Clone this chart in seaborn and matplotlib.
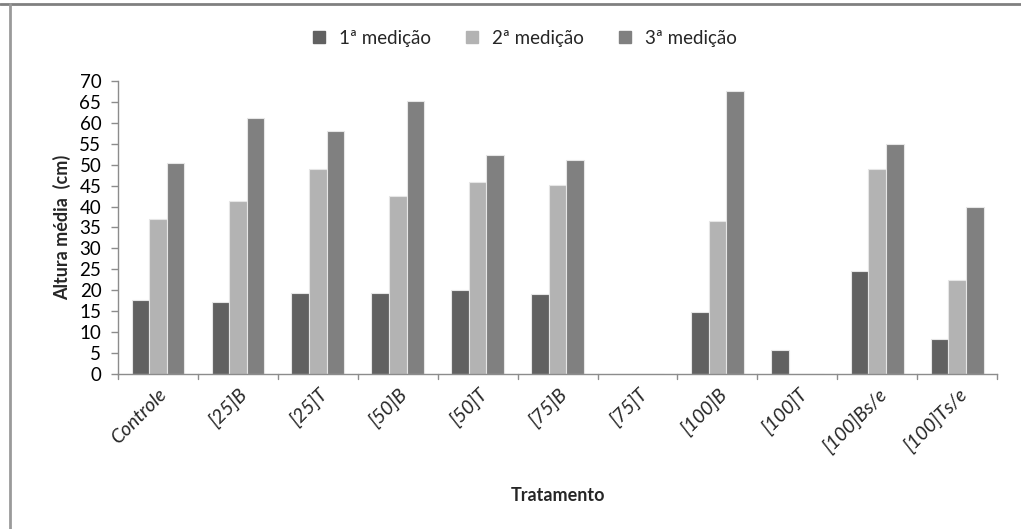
import matplotlib
matplotlib.use("Agg")
import matplotlib.pyplot as plt
from matplotlib.lines import Line2D
import seaborn as sns
import pandas as pd

categorias = ["Controle", "[25]B", "[25]T", "[50]B", "[50]T", "[75]B", "[75]T",
              "[100]B", "[100]T", "[100]Bs/e", "[100]Ts/e"]
medicao_1 = [17.7, 17.1, 19.4, 19.4, 20.0, 19.2, 0, 14.9, 5.8, 24.5, 8.4]
medicao_2 = [37.0, 41.3, 48.9, 42.6, 45.8, 45.1, 0, 36.5, 0, 48.9, 22.5]
medicao_3 = [50.3, 61.2, 58.0, 65.2, 52.4, 51.1, 0, 67.5, 0, 54.9, 39.8]
series = ["1ª medição", "2ª medição", "3ª medição"]
cores = ["#616161", "#b3b3b3", "#808080"]

df = pd.DataFrame({
    "Tratamento": categorias * 3,
    "Altura": medicao_1 + medicao_2 + medicao_3,
    "Medição": [s for s in series for _ in categorias],
})

sns.set_theme(style="white")
plt.rcParams["font.family"] = ["Lato", "DejaVu Sans"]

fig = plt.figure(figsize=(10.21, 5.29), dpi=100)
ax = fig.add_axes([0.1156, 0.293, 0.861, 0.554])

sns.barplot(data=df, x="Tratamento", y="Altura", hue="Medição",
            palette=cores, order=categorias, hue_order=series,
            width=0.66, edgecolor="#e6e6e6", linewidth=0.8,
            saturation=1, ax=ax, legend=False)

ax.set_ylim(0, 70)
ax.set_yticks(range(0, 71, 5))
ax.set_xlim(-0.5, len(categorias) - 0.5)
ax.tick_params(axis="y", labelsize=13.5, colors="#8c8c8c", length=5,
               direction="out", left=True, width=1, pad=7)
ax.tick_params(axis="x", length=0)
for t in ax.get_yticklabels():
    t.set_color("black")

# category separators along the base line
for i in range(len(categorias) + 1):
    ax.plot([i - 0.5, i - 0.5], [0, -1.3], color="#8c8c8c", lw=1,
            clip_on=False)

ax.set_xticks(range(len(categorias)))
ax.set_xticklabels(categorias, rotation=45, ha="right", rotation_mode="anchor",
                   fontsize=14, fontstyle="italic")
ax.tick_params(axis="x", pad=8)

for side in ["top", "right"]:
    ax.spines[side].set_visible(False)
for side in ["left", "bottom"]:
    ax.spines[side].set_color("#8c8c8c")
    ax.spines[side].set_linewidth(1)

ax.set_ylabel("Altura média  (cm)", fontsize=13, fontweight="bold", labelpad=6)
ax.set_xlabel("Tratamento", fontsize=13, fontweight="bold", labelpad=22)

handles = [Line2D([0], [0], marker="s", linestyle="none", markersize=9,
                  markerfacecolor=c, markeredgecolor=c) for c in cores]
fig.legend(handles, series, loc="center", bbox_to_anchor=(0.508, 0.928),
           ncol=3, frameon=False, fontsize=13.5, handletextpad=0.05,
           columnspacing=1.2)

# outer frame lines (top and left)
fig.add_artist(Line2D([0, 1], [1 - 4 / 529, 1 - 4 / 529],
                      transform=fig.transFigure, color="#808080", lw=2))
fig.add_artist(Line2D([10 / 1021, 10 / 1021], [0, 1 - 4 / 529],
                      transform=fig.transFigure, color="#9a9a9a", lw=2))

fig.savefig("out.png", dpi=100)
